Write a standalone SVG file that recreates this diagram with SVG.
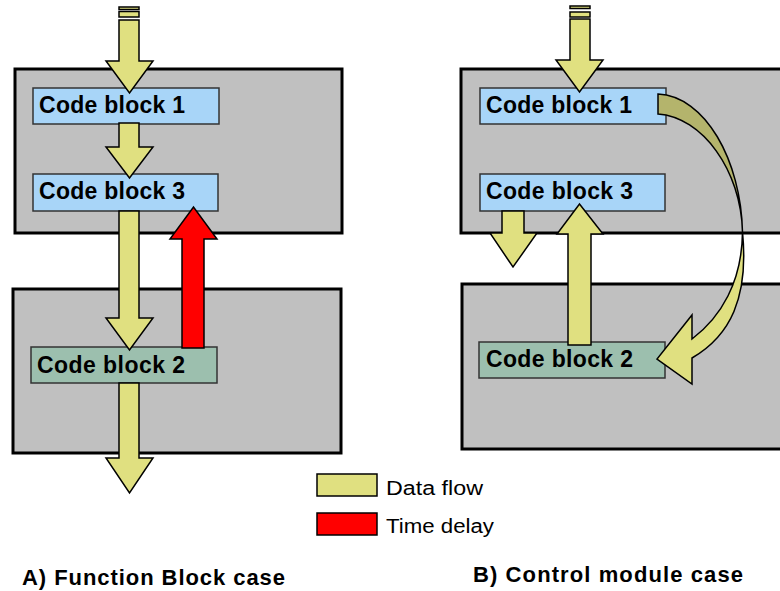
<svg xmlns="http://www.w3.org/2000/svg" width="780" height="591" viewBox="0 0 780 591">
  <style>
    .panel { fill: #c0c0c0; stroke: #000; stroke-width: 3; }
    .blue { fill: #a8d5f8; stroke: #333; stroke-width: 1.5; }
    .green { fill: #9cbfae; stroke: #333; stroke-width: 1.5; }
    .flow { fill: #e0e080; stroke: #000; stroke-width: 1.5; stroke-linejoin: miter; }
    .flow-back { fill: #b4b46c; stroke: #000; stroke-width: 1.5; }
    .delay { fill: #ff0000; stroke: #000; stroke-width: 1.5; }
    .label { font-family: "Liberation Sans", Arial, sans-serif; font-weight: bold; font-size: 23px; fill: #000; }
    .legend { font-family: "Liberation Sans", Arial, sans-serif; font-size: 20px; fill: #000; }
    .title { font-family: "Liberation Sans", Arial, sans-serif; font-weight: bold; font-size: 22px; fill: #000; }
  </style>

  <!-- A) Function Block case -->
  <g id="fb-module-top"><rect class="panel" x="15" y="69" width="327" height="164"/></g>
  <g id="fb-module-bottom"><rect class="panel" x="13" y="289" width="328" height="164"/></g>

  <g id="fb-code-block-1">
    <rect class="blue" x="33" y="88" width="186" height="36"/>
    <text class="label" x="39" y="113" textLength="146" lengthAdjust="spacing">Code block 1</text>
  </g>
  <g id="fb-code-block-3">
    <rect class="blue" x="33" y="174" width="185" height="37"/>
    <text class="label" x="39" y="199" textLength="146" lengthAdjust="spacing">Code block 3</text>
  </g>
  <g id="fb-code-block-2">
    <rect class="green" x="31" y="347" width="186" height="36"/>
    <text class="label" x="37" y="373" textLength="148" lengthAdjust="spacing">Code block 2</text>
  </g>

  <!-- B) Control module case -->
  <g id="cm-module-top"><rect class="panel" x="461" y="69" width="330" height="164"/></g>
  <g id="cm-module-bottom"><rect class="panel" x="462" y="284" width="330" height="165"/></g>

  <g id="cm-code-block-1">
    <rect class="blue" x="480" y="88" width="186" height="36"/>
    <text class="label" x="486" y="113" textLength="146" lengthAdjust="spacing">Code block 1</text>
  </g>
  <g id="cm-code-block-3">
    <rect class="blue" x="480" y="174" width="185" height="37"/>
    <text class="label" x="486" y="199" textLength="147" lengthAdjust="spacing">Code block 3</text>
  </g>
  <g id="cm-code-block-2">
    <rect class="green" x="479" y="342" width="186" height="36"/>
    <text class="label" x="486" y="367" textLength="147" lengthAdjust="spacing">Code block 2</text>
  </g>

  <!-- connectors -->
  <g id="connectors">
    <!-- left: input, block 1 -> 3 -> 2 -> output -->
    <rect class="flow" x="119" y="7" width="20" height="2.5"/>
    <rect class="flow" x="119" y="11.5" width="20" height="5.5"/>
    <polygon class="flow" points="119,20 139,20 139,61 153,61 129.5,93 106,61 119,61"/>
    <polygon class="flow" points="119,123 139,123 139,147 153,147 129.5,178 106,147 119,147"/>
    <polygon class="flow" points="119,211 139,211 139,318 153,318 129.5,350 106,318 119,318"/>
    <polygon class="flow" points="119,383 139,383 139,458 153,458 129.5,493 106,458 119,458"/>
    <!-- left: delayed feedback 2 -> 3 -->
    <polygon class="delay" points="182,348 182,239 170,239 193.5,207 217,239 204,239 204,348"/>

    <!-- right: input, block 1 -> 2 (curved), 2 -> 3, 3 -> output -->
    <rect class="flow" x="570" y="6" width="20" height="2.5"/>
    <rect class="flow" x="570" y="12" width="20" height="5"/>
    <polygon class="flow" points="570,19 590,19 590,60 603,60 579.5,92 556,60 570,60"/>
    <polygon class="flow" points="502,211 524,211 524,233 537,233 513,267 490,233 502,233"/>
    <polygon class="flow" points="568,345 568,234 557,234 579.5,204 603,234 591,234 591,345"/>

    <path class="flow-back" d="M658,94 C705,96 741,160 742.5,232 C741,170 702,117 658,114 Z"/>
    <path class="flow" d="M742.5,232 C742,282 721,317 692,339 L692,315 L657,359 L692,384 L692,358 C730,336 749,298 742.5,232 Z"/>
  </g>

  <!-- legend -->
  <g id="legend">
    <rect class="flow" x="317" y="474" width="60" height="22" stroke-width="2"/>
    <text class="legend" x="386" y="495" textLength="97" lengthAdjust="spacingAndGlyphs">Data flow</text>
    <rect class="delay" x="317" y="513" width="60" height="22" stroke-width="2"/>
    <text class="legend" x="386" y="533" textLength="108" lengthAdjust="spacingAndGlyphs">Time delay</text>
  </g>

  <!-- captions -->
  <text class="title" x="22" y="585" textLength="263" lengthAdjust="spacing">A) Function Block case</text>
  <text class="title" x="473" y="582" textLength="270" lengthAdjust="spacing">B) Control module case</text>
</svg>
